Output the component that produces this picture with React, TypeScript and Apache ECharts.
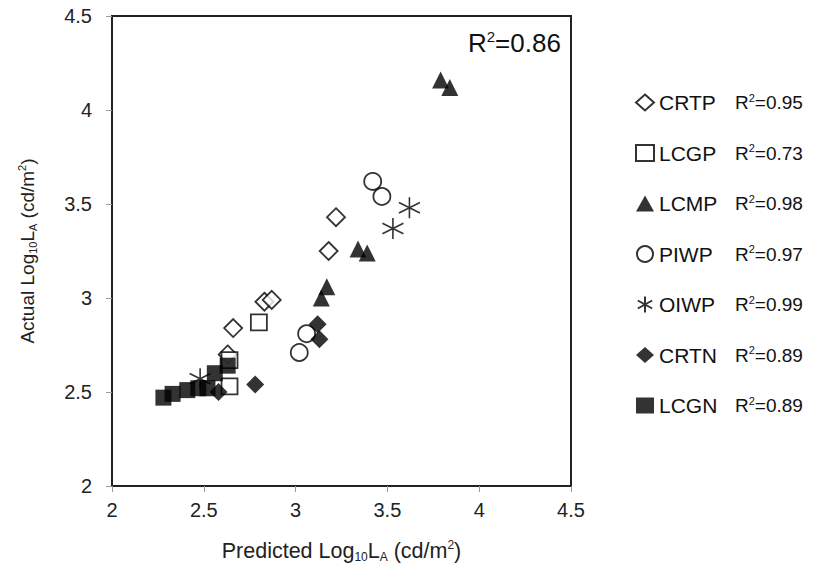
import React, { useEffect, useRef } from "react";
import * as echarts from "echarts";

const seriesNames = ["CRTP", "LCGP", "LCMP", "PIWP", "OIWP", "CRTN", "LCGN"];
const r2Values = ["0.95", "0.73", "0.98", "0.97", "0.99", "0.89", "0.89"];
const overallR2 = "0.86";

const crtpX = [2.63, 2.66, 2.83, 2.87, 3.18, 3.22];
const crtpY = [2.7, 2.84, 2.98, 2.99, 3.25, 3.43];
const lcgpX = [2.64, 2.64, 2.8];
const lcgpY = [2.53, 2.67, 2.87];
const lcmpX = [3.14, 3.17, 3.34, 3.39, 3.79, 3.84];
const lcmpY = [3.0, 3.06, 3.26, 3.24, 4.16, 4.12];
const piwpX = [3.02, 3.06, 3.42, 3.47];
const piwpY = [2.71, 2.81, 3.62, 3.54];
const oiwpX = [2.48, 3.53, 3.62];
const oiwpY = [2.57, 3.37, 3.48];
const crtnX = [2.58, 2.78, 3.12, 3.13];
const crtnY = [2.5, 2.54, 2.86, 2.78];
const lcgnX = [2.28, 2.33, 2.41, 2.47, 2.52, 2.56, 2.63];
const lcgnY = [2.47, 2.49, 2.51, 2.52, 2.52, 2.6, 2.64];

const axisTicks = [2, 2.5, 3, 3.5, 4, 4.5];

const FONT = "'Liberation Sans', Arial, sans-serif";
const ASTERISK = "path://M10,0L10,20M1,5L19,15M1,15L19,5";

const zip = (xs: number[], ys: number[]) => xs.map((x, i) => [x, ys[i]]);

export default function App() {
  const ref = useRef<HTMLDivElement>(null);
  useEffect(() => {
    if (!ref.current) return;
    const chart = echarts.init(ref.current, null, { renderer: "svg" });
    const open = { color: "#fff", borderColor: "#000", borderWidth: 1.8 };
    const filled = { color: "#000", borderColor: "#000", borderWidth: 0 };
    const specs = [
      { x: crtpX, y: crtpY, symbol: "diamond", size: 18, style: open },
      { x: lcgpX, y: lcgpY, symbol: "rect", size: 16, style: open },
      { x: lcmpX, y: lcmpY, symbol: "triangle", size: 17, style: filled },
      { x: piwpX, y: piwpY, symbol: "circle", size: 17, style: open },
      { x: oiwpX, y: oiwpY, symbol: ASTERISK, size: 21, style: { color: "none", borderColor: "#000", borderWidth: 1.6 } },
      { x: crtnX, y: crtnY, symbol: "diamond", size: 18, style: filled },
      { x: lcgnX, y: lcgnY, symbol: "rect", size: 16, style: filled },
    ];
    const axisCommon = {
      type: "value" as const,
      min: 2,
      max: 4.5,
      interval: 0.5,
      splitLine: { show: false },
      axisLine: { show: true, lineStyle: { color: "#222", width: 2 } },
      axisTick: { show: true, inside: false, length: 6, lineStyle: { color: "#999", width: 1 } },
      axisLabel: {
        fontFamily: FONT,
        fontSize: 20,
        color: "#222",
        formatter: (v: number) => (axisTicks.includes(v) ? String(v) : ""),
      },
      nameLocation: "middle" as const,
    };
    const mkRich = (size: number) => ({
      t: { fontFamily: FONT, fontSize: size, color: "#222" },
      sub: { fontFamily: FONT, fontSize: Math.round(size * 0.58), color: "#222", padding: [Math.round(size * 0.6), 0, 0, 0] },
      sup: { fontFamily: FONT, fontSize: Math.round(size * 0.58), color: "#222", padding: [0, 0, Math.round(size * 0.5), 0] },
    });
    chart.setOption({
      animation: false,
      backgroundColor: "#fff",
      grid: {
        left: 112,
        right: 248,
        top: 16,
        bottom: 91,
        show: true,
        borderColor: "#222",
        borderWidth: 2,
        backgroundColor: "transparent",
      },
      title: {
        text: "{t|R}{sup|2}{t|=" + overallR2 + "}",
        left: 463,
        top: 24,
        textStyle: {
          rich: {
            t: { fontFamily: FONT, fontSize: 26, fontWeight: "normal", color: "#111" },
            sup: { fontFamily: FONT, fontSize: 15, fontWeight: "normal", color: "#111", padding: [0, 0, 12, 0] },
          },
        },
      },
      xAxis: {
        ...axisCommon,
        axisLabel: { ...axisCommon.axisLabel, margin: 14 },
        name: "{t|Predicted Log}{sub|10}{t|L}{sub|A}{t| (cd/m}{sup|2}{t|)}",
        nameGap: 52,
        nameTextStyle: { rich: mkRich(21.5) },
      },
      yAxis: {
        ...axisCommon,
        axisLabel: { ...axisCommon.axisLabel, margin: 20 },
        name: "{t|Actual Log}{sub|10}{t|L}{sub|A}{t| (cd/m}{sup|2}{t|)}",
        nameGap: 74,
        nameTextStyle: { rich: mkRich(19) },
      },
      legend: {
        orient: "vertical",
        left: 630,
        top: 87,
        itemGap: 29.5,
        itemWidth: 18,
        itemHeight: 16,
        data: seriesNames,
        formatter: (name: string) => {
          const i = seriesNames.indexOf(name);
          return "{n|" + name + "}{t|R}{sup|2}{t|=" + r2Values[i] + "}";
        },
        textStyle: {
          rich: {
            n: { fontFamily: FONT, fontSize: 21, color: "#111", width: 76 },
            t: { fontFamily: FONT, fontSize: 19, color: "#111" },
            sup: { fontFamily: FONT, fontSize: 11, color: "#111", padding: [0, 0, 10, 0] },
          },
        },
      },
      series: specs.map((s, i) => ({
        name: seriesNames[i],
        type: "scatter",
        symbol: s.symbol,
        symbolSize: s.size,
        itemStyle: s.style,
        data: zip(s.x, s.y),
        z: 2 + i,
      })),
    });
    return () => chart.dispose();
  }, []);
  return <div ref={ref} style={{ width: 819, height: 577, margin: -8 }} />;
}
